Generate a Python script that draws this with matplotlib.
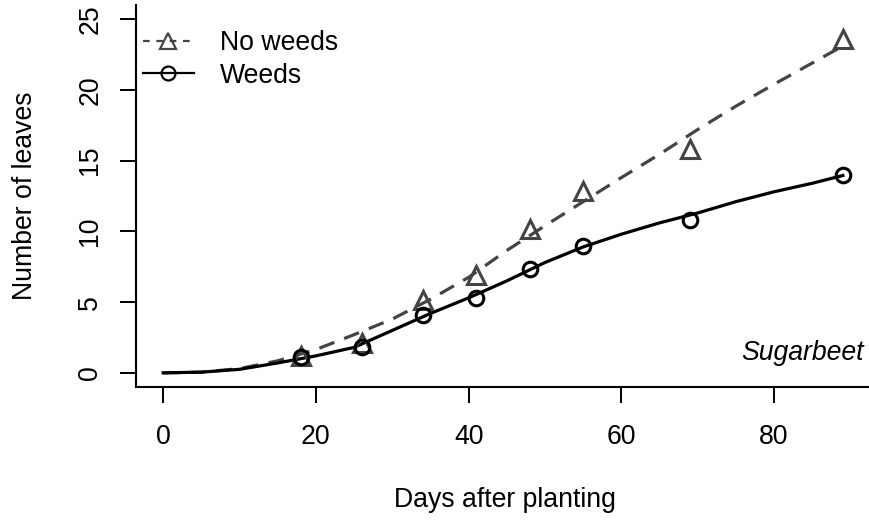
import matplotlib.pyplot as plt
from matplotlib import rcParams
from matplotlib.lines import Line2D
rcParams['font.family'] = 'sans-serif'
rcParams['font.sans-serif'] = ['Liberation Sans', 'DejaVu Sans']

# observed means
days = [18, 26, 34, 41, 48, 55, 69, 89]
no_weeds = [1.2, 2.1, 5.15, 6.9, 10.2, 12.85, 15.8, 23.6]
weeds = [1.1, 1.8, 4.1, 5.3, 7.35, 8.95, 10.8, 14.0]

# fitted curves
fit_days = [0, 5, 10, 15, 20, 25, 30, 35, 40, 45, 50, 55, 60, 65, 70, 75, 80, 85, 89]
fit_no_weeds = [0, 0.05, 0.3, 0.85, 1.65, 2.7, 3.8, 5.2, 6.75, 8.65, 10.4, 12.1,
                13.8, 15.45, 17.2, 18.85, 20.4, 21.9, 23.1]
fit_weeds = [0, 0.05, 0.25, 0.7, 1.2, 1.8, 3.0, 4.2, 5.3, 6.5, 7.8, 8.9,
             9.8, 10.6, 11.3, 12.1, 12.8, 13.4, 13.95]

fs = 19.2
grey = '#444444'

fig = plt.figure(figsize=(8.7, 5.21), dpi=100)
ax = fig.add_axes([136/870, 1-387/521, 1-136/870, (387-5)/521])

ax.plot(fit_days, fit_no_weeds, color=grey, lw=2.3, dashes=(5, 3.3))
ax.plot(fit_days, fit_weeds, color='black', lw=2.3)
ax.plot(days, no_weeds, ls='none', marker='^', ms=13, mfc='none', mec=grey, mew=2.2)
ax.plot(days, weeds, ls='none', marker='o', ms=10.5, mfc='none', mec='black', mew=2.2)

ax.set_xlim(-3.56, 92.56)
ax.set_ylim(-1, 26)
ax.set_xticks([0, 20, 40, 60, 80])
ax.set_yticks([0, 5, 10, 15, 20, 25])
for s in ['top', 'right']:
    ax.spines[s].set_visible(False)
for s in ['left', 'bottom']:
    ax.spines[s].set_linewidth(1.5)
ax.tick_params(length=11.5, width=1.4, labelsize=fs)
ax.tick_params(axis='x', pad=15)
ax.tick_params(axis='y', pad=12, labelrotation=90)
for t in ax.get_yticklabels():
    t.set_va('center')

ax.text(91.7, 1.4, 'Sugarbeet', style='italic', fontsize=fs, ha='right', va='center')

# legend
h1 = Line2D([], [], color=grey, lw=1.6, dashes=(3, 3), marker='^', ms=12, mfc='none', mec=grey, mew=1.6)
h2 = Line2D([], [], color='black', lw=1.6, marker='o', ms=10, mfc='none', mec='black', mew=1.6)
ax.legend([h1, h2], ['No weeds', 'Weeds'], loc='upper left', bbox_to_anchor=(143/870, 1-30/521),
          bbox_transform=fig.transFigure, frameon=False, fontsize=fs, handlelength=1.9,
          handletextpad=1.0, labelspacing=0.25, borderpad=0, borderaxespad=0)

fig.text(505/870, 1-500/521, 'Days after planting', fontsize=fs, ha='center', va='center')
fig.text(25/870, 1-196/521, 'Number of leaves', fontsize=fs, ha='center', va='center', rotation=90)

plt.savefig('out.png', dpi=100)
